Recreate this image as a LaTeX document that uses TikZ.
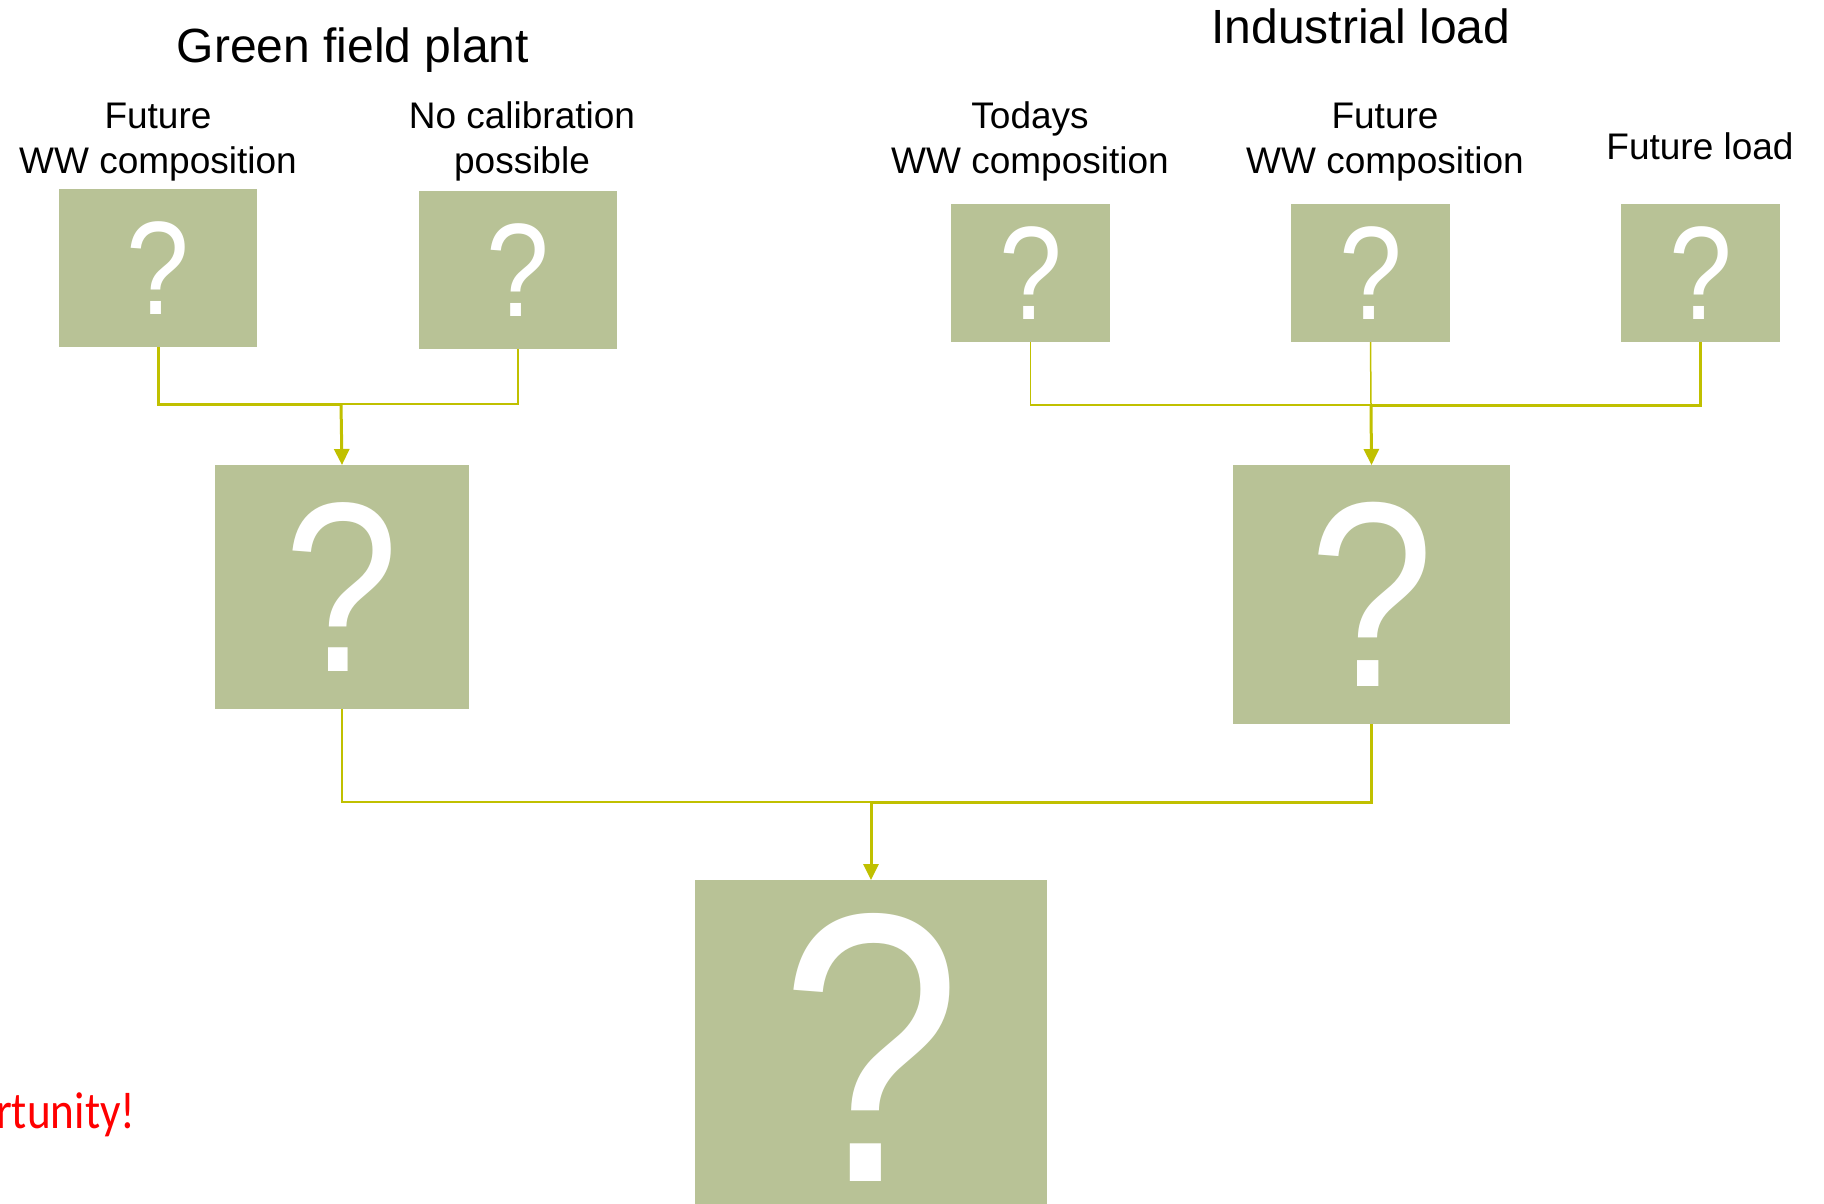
\documentclass[tikz,border=0pt]{standalone}
\usepackage{fontspec}
\setmainfont{Liberation Sans}
\newfontfamily\quizfont[FakeStretch=0.85]{Liberation Sans}
\newfontfamily\notefont[FakeStretch=0.87]{Carlito}
\usetikzlibrary{arrows.meta}
\definecolor{sage}{HTML}{B8C296}
\definecolor{wire}{HTML}{C0C000}
\definecolor{alert}{HTML}{FF0000}

\begin{document}
\begin{tikzpicture}[x=1pt,y=-1pt,
  unknown/.style={fill=sage,text=white,inner sep=0pt,outer sep=0pt},
  leaf/.style={unknown,minimum width=#1pt,font=\quizfont\fontsize{133}{133}\selectfont},
  heading/.style={anchor=base,font=\fontsize{48}{58}\selectfont},
  caption/.style={anchor=base,align=center,font=\fontsize{37}{45}\selectfont},
  link/.style={draw=wire,line width=1.5pt},
  mainlink/.style={draw=wire,line width=3pt},
  feed/.style={mainlink,-{Triangle[length=16pt,width=15pt]}}]
\useasboundingbox (0,0) rectangle (1824,1203);

\node[heading] (green) at (353,62) {Green field plant};
\node[heading] (industry) at (1361,43) {Industrial load};

\node[caption] (capA) at (158,173) {Future\\WW composition};
\node[caption] (capB) at (522,173) {No calibration\\possible};
\node[caption] (capC) at (1030,173) {Todays\\WW composition};
\node[caption] (capD) at (1385,173) {Future\\WW composition};
\node[caption] (capE) at (1700,159) {Future load};

\node[leaf=198,minimum height=158pt] (A) at (158,268) {?};
\node[leaf=198,minimum height=158pt] (B) at (518,270) {?};
\node[leaf=159,minimum height=138pt] (C) at (1030.5,273) {?};
\node[leaf=159,minimum height=138pt] (D) at (1370.5,273) {?};
\node[leaf=159,minimum height=138pt] (E) at (1700.5,273) {?};

\node[unknown,minimum width=254pt,minimum height=244pt,font=\quizfont\fontsize{242}{242}\selectfont] (F) at (342,587) {?};
\node[unknown,minimum width=277pt,minimum height=259pt,font=\quizfont\fontsize{264}{264}\selectfont] (G) at (1371.5,594.5) {?};
\node[unknown,minimum width=352pt,minimum height=334pt,font=\quizfont\fontsize{384}{384}\selectfont] (H) at (871,1047) {?};

\coordinate (jl) at (341,404);
\coordinate (jr) at (1371,405);
\coordinate (jb) at (871,802);

\draw[mainlink] (A.south) |- (jl);
\draw[link] (B.south) |- (jl);
\draw[feed] (jl) -- (F.north);

\draw[link] (C.south) |- (jr);
\draw[link] (D.south) -- (jr);
\draw[mainlink] (E.south) |- (jr);
\draw[feed] (jr) -- (G.north);

\draw[link] (F.south) |- (jb);
\draw[mainlink] (G.south) |- (jb);
\draw[feed] (jb) -- (H.north);

\node[anchor=base west,inner sep=0pt,text=alert,font=\notefont\fontsize{52}{60}\selectfont] (note) at (-4,1128) {rtunity!};
\end{tikzpicture}
\end{document}
